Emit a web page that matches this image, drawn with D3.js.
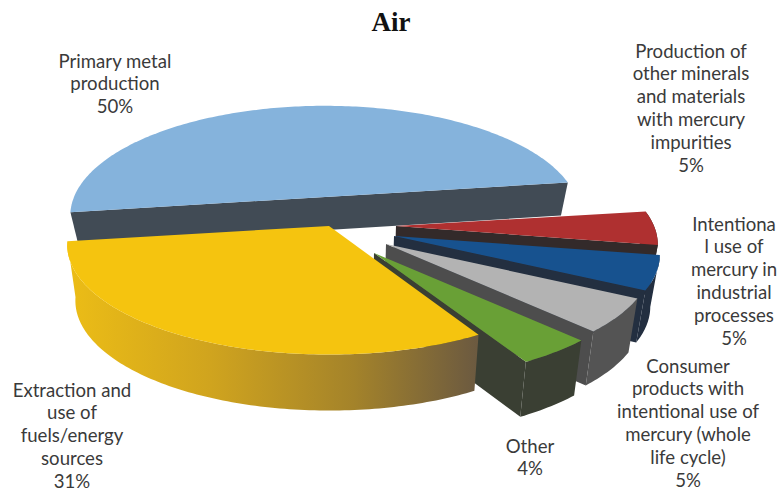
<!DOCTYPE html>
<html><head><meta charset="utf-8">
<script src="https://cdn.jsdelivr.net/npm/d3@7"></script>
<style>html,body{margin:0;background:#fff}svg{display:block}</style></head>
<body><div id="c"></div>
<script>
const title = "Air";
const categories = ["Primary metal production","Production of other minerals and materials with mercury impurities","Intentional use of mercury in industrial processes","Consumer products with intentional use of mercury (whole life cycle)","Other","Extraction and use of fuels/energy sources"];
const values = [50,5,5,5,4,31];
const topColors = ["#85b3dc","#af3030","#17528f","#b3b3b3","#69a036","#f5c40f"];
const wallColors = ["#414b55","#332a2a","#232f40","#545454","#3a3f33","url(#yw)"];
const cutColors = ["#414b55","#332a2a","#232f40","#4d4d4d","#3a3f33",null];
const centersX = [325,396,394,386,374,329];
const centersY = [197,226,236,244,253,226];
const radii = [251,258,262,262,262,258];
const depths = [33,50,52,54,55,56];
const labelLines = [
 ["Primary metal","production","50%"],
 ["Production of","other minerals","and materials","with mercury","impurities","5%"],
 ["Intentiona","l use of","mercury in","industrial","processes","5%"],
 ["Consumer","products with","intentional use of","mercury (whole","life cycle)","5%"],
 ["Other","4%"],
 ["Extraction and","use of","fuels/energy","sources","31%"]];
const labelX = [115,691,734,688,530,72];
const labelY = [61,51,224,366,446,390];

const W=779,H=491;
const svg=d3.select("#c").append("svg").attr("width",W).attr("height",H);
const g0=svg.append("defs").append("linearGradient").attr("id","yw").attr("gradientUnits","userSpaceOnUse")
 .attr("x1",67).attr("x2",476).attr("y1",0).attr("y2",0);
[[0,"#ecbd16"],[.35,"#d0a41e"],[.7,"#a4832a"],[1,"#6c5a40"]].forEach(d=>g0.append("stop").attr("offset",d[0]).attr("stop-color",d[1]));

const START=262*Math.PI/180;
const pie=d3.pie().sort(null).startAngle(START).endAngle(START+2*Math.PI);
const arcs=pie(values);
const k=0.17, ry=106.7, vx=340, shrink=0.97;
const line=d3.line();
const proj=(i,a)=>{const s=1/(1+k*Math.cos(a));
 return [centersX[i]+radii[i]*Math.sin(a)*s, centersY[i]-ry*Math.cos(a)*s];};
const down=(i,p)=>[vx+(p[0]-vx)*shrink,p[1]+depths[i]];
const chart=svg.append("g");
arcs.forEach((d,i)=>{
 const n=Math.max(8,Math.round((d.endAngle-d.startAngle)*60));
 const t=d3.scaleLinear().domain([0,n]).range([d.startAngle,d.endAngle]);
 const rim=d3.range(n+1).map(j=>proj(i,t(j)));
 const c=[centersX[i],centersY[i]];
 const first=rim[0], last=rim[n];
 const g=chart.append("g");
 if(i===0){
  g.append("path").attr("d",line([first,last,down(i,last),down(i,first)])+"Z").attr("fill",cutColors[i]);
 } else {
  g.append("path").attr("d",line(rim.concat(rim.slice().reverse().map(p=>down(i,p))))+"Z").attr("fill",wallColors[i]);
  if(cutColors[i]) g.append("path").attr("d",line([c,last,down(i,last),down(i,c)])+"Z").attr("fill",cutColors[i]);
 }
 g.append("path").attr("d",line([c].concat(rim))+"Z").attr("fill",topColors[i]);
});
svg.append("text").text(title).attr("x",391).attr("y",31).attr("text-anchor","middle")
 .attr("font-family","'Liberation Serif',serif").attr("font-weight","bold").attr("font-size",27).attr("fill","#111");
labelLines.forEach((ls,i)=>{
 const t=svg.append("text").attr("text-anchor","middle").attr("font-family","Lato,sans-serif").attr("font-size",18.6).attr("fill","#3a3a3a");
 ls.forEach((s,j)=>t.append("tspan").attr("x",labelX[i]).attr("y",labelY[i]+j*22.8).attr("dy","0.35em").text(s));
});
</script></body></html>
